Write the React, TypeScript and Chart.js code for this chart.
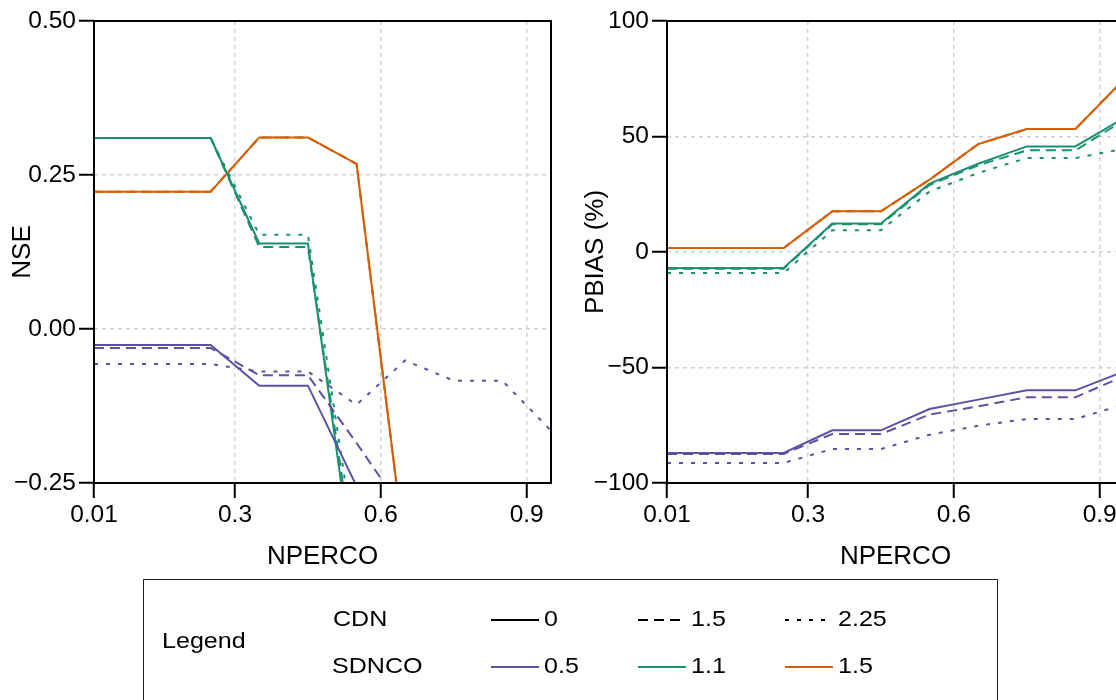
import React, { useEffect, useRef } from "react";
import { Chart, registerables } from "chart.js";

Chart.register(...registerables);

// ---------- data ----------
const NPERCO = [0.01, 0.25, 0.35, 0.45, 0.55, 0.65, 0.75, 0.85, 0.95];
const X_TICKS = [0.01, 0.3, 0.6, 0.9];
const X_TICK_LABELS = ["0.01", "0.3", "0.6", "0.9"];

const NSE_TICKS = [-0.25, 0, 0.25, 0.5];
const NSE_TICK_LABELS = ["\u22120.25", "0.00", "0.25", "0.50"];
const PBIAS_TICKS = [-100, -50, 0, 50, 100];
const PBIAS_TICK_LABELS = ["\u2212100", "\u221250", "0", "50", "100"];

const CDN_LEVELS = ["0", "1.5", "2.25"];
const SDNCO_LEVELS = ["0.5", "1.1", "1.5"];

// NSE (left panel)
const NSE_SDNCO05_CDN0 = [-0.026, -0.026, -0.092, -0.092, -0.255, -0.42, -0.55, -0.6, -0.7];
const NSE_SDNCO05_CDN15 = [-0.031, -0.031, -0.075, -0.075, -0.185, -0.3, -0.4, -0.45, -0.55];
const NSE_SDNCO05_CDN225 = [-0.057, -0.057, -0.069, -0.069, -0.123, -0.051, -0.084, -0.084, -0.165];
const NSE_SDNCO11_CDN0 = [0.31, 0.31, 0.139, 0.139, -0.43, -0.6, -0.7, -0.75, -0.8];
const NSE_SDNCO11_CDN15 = [0.31, 0.31, 0.133, 0.133, -0.4, -0.58, -0.68, -0.73, -0.78];
const NSE_SDNCO11_CDN225 = [0.31, 0.31, 0.153, 0.153, -0.37, -0.55, -0.65, -0.7, -0.75];
const NSE_SDNCO15_CDN0 = [0.223, 0.223, 0.311, 0.311, 0.268, -0.364, -0.5, -0.6, -0.7];
const NSE_SDNCO15_CDN15 = [0.223, 0.223, 0.311, 0.311, 0.268, -0.364, -0.5, -0.6, -0.7];
const NSE_SDNCO15_CDN225 = [0.223, 0.223, 0.311, 0.311, 0.268, -0.364, -0.5, -0.6, -0.7];

// PBIAS (right panel)
const PBIAS_SDNCO05_CDN0 = [-87.0, -87.0, -77.2, -77.2, -68.0, -63.9, -59.9, -59.9, -51.7];
const PBIAS_SDNCO05_CDN15 = [-87.4, -87.4, -78.8, -78.8, -70.4, -66.8, -62.9, -62.9, -53.7];
const PBIAS_SDNCO05_CDN225 = [-91.3, -91.3, -85.3, -85.3, -79.1, -75.2, -72.3, -72.3, -66.0];
const PBIAS_SDNCO11_CDN0 = [-6.9, -6.9, 12.3, 12.3, 29.6, 38.2, 45.7, 45.7, 58.0];
const PBIAS_SDNCO11_CDN15 = [-7.2, -7.2, 12.0, 12.0, 29.0, 37.5, 44.0, 44.0, 57.0];
const PBIAS_SDNCO11_CDN225 = [-9.1, -9.1, 9.4, 9.4, 26.2, 34.2, 40.7, 40.7, 44.7];
const PBIAS_SDNCO15_CDN0 = [1.7, 1.7, 17.6, 17.6, 31.3, 46.7, 53.2, 53.2, 74.8];
const PBIAS_SDNCO15_CDN15 = [1.7, 1.7, 17.6, 17.6, 31.3, 46.7, 53.2, 53.2, 74.8];
const PBIAS_SDNCO15_CDN225 = [1.7, 1.7, 17.6, 17.6, 31.3, 46.7, 53.2, 53.2, 74.8];

// ---------- styles ----------
const FONT = "'Liberation Sans', Arial, Helvetica, sans-serif";
const COLORS: Record<string, string> = { "0.5": "#5B52A3", "1.1": "#1B9070", "1.5": "#D4600A" };
const DASHES: Record<string, number[]> = { "0": [], "1.5": [10, 6], "2.25": [4, 8] };

type Series = { sdnco: string; cdn: string; values: number[] };

const NSE_SERIES: Series[] = [
  { sdnco: "0.5", cdn: "0", values: NSE_SDNCO05_CDN0 },
  { sdnco: "0.5", cdn: "1.5", values: NSE_SDNCO05_CDN15 },
  { sdnco: "0.5", cdn: "2.25", values: NSE_SDNCO05_CDN225 },
  { sdnco: "1.1", cdn: "0", values: NSE_SDNCO11_CDN0 },
  { sdnco: "1.1", cdn: "1.5", values: NSE_SDNCO11_CDN15 },
  { sdnco: "1.1", cdn: "2.25", values: NSE_SDNCO11_CDN225 },
  { sdnco: "1.5", cdn: "0", values: NSE_SDNCO15_CDN0 },
  { sdnco: "1.5", cdn: "1.5", values: NSE_SDNCO15_CDN15 },
  { sdnco: "1.5", cdn: "2.25", values: NSE_SDNCO15_CDN225 },
];

const PBIAS_SERIES: Series[] = [
  { sdnco: "0.5", cdn: "0", values: PBIAS_SDNCO05_CDN0 },
  { sdnco: "0.5", cdn: "1.5", values: PBIAS_SDNCO05_CDN15 },
  { sdnco: "0.5", cdn: "2.25", values: PBIAS_SDNCO05_CDN225 },
  { sdnco: "1.1", cdn: "0", values: PBIAS_SDNCO11_CDN0 },
  { sdnco: "1.1", cdn: "1.5", values: PBIAS_SDNCO11_CDN15 },
  { sdnco: "1.1", cdn: "2.25", values: PBIAS_SDNCO11_CDN225 },
  { sdnco: "1.5", cdn: "0", values: PBIAS_SDNCO15_CDN0 },
  { sdnco: "1.5", cdn: "1.5", values: PBIAS_SDNCO15_CDN15 },
  { sdnco: "1.5", cdn: "2.25", values: PBIAS_SDNCO15_CDN225 },
];

const boxPlugin = {
  id: "panelBox",
  afterDatasetsDraw(chart: any) {
    const { ctx, chartArea } = chart;
    ctx.save();
    ctx.strokeStyle = "#000";
    ctx.lineWidth = 2;
    ctx.setLineDash([]);
    ctx.strokeRect(chartArea.left, chartArea.top, chartArea.right - chartArea.left, chartArea.bottom - chartArea.top);
    ctx.restore();
  },
};

function labelFor(ticks: number[], labels: string[], v: number) {
  let best = 0;
  for (let i = 0; i < ticks.length; i++) {
    if (Math.abs(ticks[i] - v) < Math.abs(ticks[best] - v)) best = i;
  }
  return labels[best];
}

function makeConfig(series: Series[], yMin: number, yMax: number, yTicks: number[], yLabels: string[], yTitle: string): any {
  const tickFont = { family: FONT, size: 24.5 };
  const titleFont = { family: FONT, size: 26 };
  const grid = {
    color: "#D0D0D0",
    lineWidth: 1.5,
    drawTicks: true,
    tickLength: 15,
    tickColor: "#000",
    tickWidth: 2,
    tickBorderDash: [],
  };
  return {
    type: "line",
    data: {
      datasets: series.map((s) => ({
        label: `SDNCO ${s.sdnco}, CDN ${s.cdn}`,
        data: NPERCO.map((x, i) => ({ x, y: s.values[i] })),
        borderColor: COLORS[s.sdnco],
        borderDash: DASHES[s.cdn],
        borderWidth: 2,
        pointRadius: 0,
        fill: false,
        tension: 0,
        clip: 0,
      })),
    },
    options: {
      responsive: false,
      animation: false,
      devicePixelRatio: 1,
      layout: { padding: { top: 21, right: 19, bottom: 0, left: 0 } },
      plugins: { legend: { display: false }, tooltip: { enabled: false } },
      scales: {
        x: {
          type: "linear",
          min: NPERCO[0],
          max: NPERCO[NPERCO.length - 1],
          afterBuildTicks: (s: any) => {
            s.ticks = X_TICKS.map((v) => ({ value: v }));
          },
          afterFit: (s: any) => {
            s.height = 97;
          },
          ticks: {
            callback: (v: number) => labelFor(X_TICKS, X_TICK_LABELS, v),
            font: tickFont,
            color: "#000",
            padding: 3,
            maxRotation: 0,
            autoSkip: false,
          },
          grid,
          border: { display: false, dash: [4, 4] },
          title: { display: true, text: "NPERCO", font: titleFont, color: "#000", padding: { top: 0, bottom: 8 } },
        },
        y: {
          type: "linear",
          min: yMin,
          max: yMax,
          afterBuildTicks: (s: any) => {
            s.ticks = yTicks.map((v) => ({ value: v }));
          },
          afterFit: (s: any) => {
            s.width = 94;
          },
          ticks: {
            callback: (v: number) => labelFor(yTicks, yLabels, v),
            font: tickFont,
            color: "#000",
            padding: 3,
            autoSkip: false,
          },
          grid,
          border: { display: false, dash: [4, 4] },
          title: { display: true, text: yTitle, font: titleFont, color: "#000", padding: { top: 7, bottom: 0 } },
        },
      },
    },
    plugins: [boxPlugin],
  };
}

function Panel(props: { left: number; series: Series[]; yMin: number; yMax: number; yTicks: number[]; yLabels: string[]; yTitle: string }) {
  const ref = useRef<HTMLCanvasElement>(null);
  useEffect(() => {
    if (!ref.current) return;
    const chart = new Chart(ref.current, makeConfig(props.series, props.yMin, props.yMax, props.yTicks, props.yLabels, props.yTitle));
    return () => chart.destroy();
  }, []);
  return (
    <canvas
      ref={ref}
      width={570}
      height={580}
      style={{ position: "absolute", left: props.left, top: 0, width: 570, height: 580 }}
    />
  );
}

function LegendText(props: { x: number; capTop: number; text: string }) {
  return (
    <div
      style={{
        position: "absolute",
        left: props.x,
        top: props.capTop - 2.9,
        fontFamily: FONT,
        fontSize: 22,
        lineHeight: "22px",
        color: "#000",
        whiteSpace: "nowrap",
        transform: "scaleX(1.14)",
        transformOrigin: "left top",
      }}
    >
      {props.text}
    </div>
  );
}

function LegendLine(props: { x: number; y: number; color: string; dash: number[] }) {
  return (
    <svg style={{ position: "absolute", left: props.x, top: props.y - 3 }} width={48} height={6}>
      <line x1={0} y1={3} x2={48} y2={3} stroke={props.color} strokeWidth={2} strokeDasharray={props.dash.length ? props.dash.join(" ") : undefined} />
    </svg>
  );
}

const LEGEND_COL_X = [491, 638, 785];

export default function App() {
  return (
    <div style={{ position: "fixed", left: 0, top: 0, width: 1116, height: 700, overflow: "hidden", background: "#fff" }}>
      <Panel left={0} series={NSE_SERIES} yMin={-0.25} yMax={0.5} yTicks={NSE_TICKS} yLabels={NSE_TICK_LABELS} yTitle="NSE" />
      <Panel left={573} series={PBIAS_SERIES} yMin={-100} yMax={100} yTicks={PBIAS_TICKS} yLabels={PBIAS_TICK_LABELS} yTitle="PBIAS (%)" />
      <div style={{ position: "absolute", left: 143, top: 579, width: 855, height: 200, border: "1.5px solid #222", boxSizing: "border-box" }} />
      <LegendText x={161.7} capTop={633.3} text="Legend" />
      <LegendText x={332.7} capTop={610.5} text="CDN" />
      <LegendText x={331.7} capTop={658} text="SDNCO" />
      {CDN_LEVELS.map((c, i) => (
        <React.Fragment key={"c" + c}>
          <LegendLine x={LEGEND_COL_X[i]} y={619.5} color="#000" dash={DASHES[c]} />
          <LegendText x={LEGEND_COL_X[i] + 53} capTop={611} text={c} />
        </React.Fragment>
      ))}
      {SDNCO_LEVELS.map((s, i) => (
        <React.Fragment key={"s" + s}>
          <LegendLine x={LEGEND_COL_X[i]} y={666.7} color={COLORS[s]} dash={[]} />
          <LegendText x={LEGEND_COL_X[i] + 53} capTop={658} text={s} />
        </React.Fragment>
      ))}
    </div>
  );
}
